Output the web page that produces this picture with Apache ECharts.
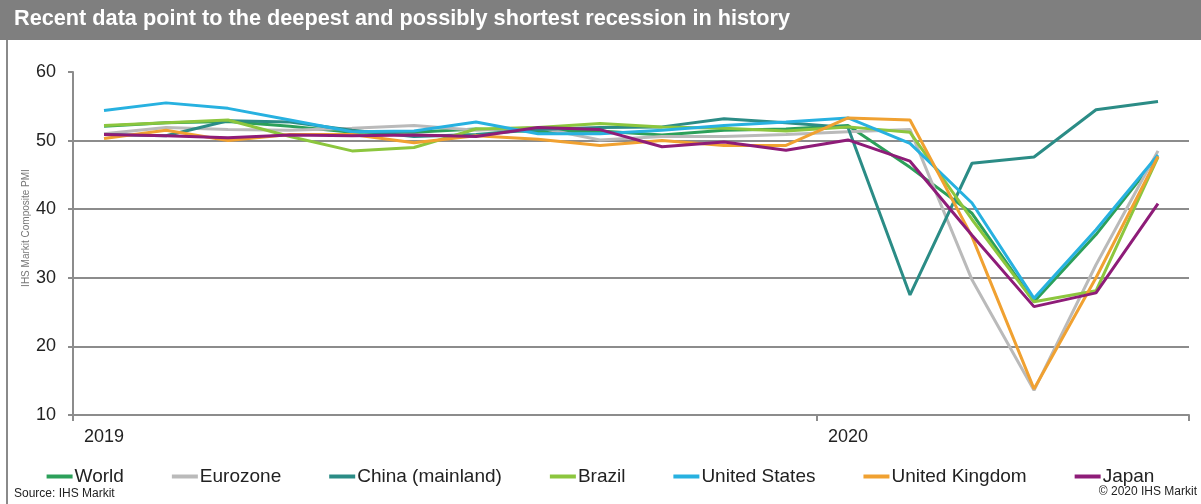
<!DOCTYPE html>
<html>
<head>
<meta charset="utf-8">
<script src="https://cdn.jsdelivr.net/npm/echarts@6/dist/echarts.min.js"></script>
<style>
html,body{margin:0;padding:0;background:#fff;}
#chart{width:1201px;height:504px;}
</style>
</head>
<body>
<div id="chart"></div>
<script>
const months = ['2019-01','2019-02','2019-03','2019-04','2019-05','2019-06','2019-07','2019-08','2019-09','2019-10','2019-11','2019-12',
                '2020-01','2020-02','2020-03','2020-04','2020-05','2020-06'];
const yearLabels = {'2019-01':'2019','2020-01':'2020'};
const yTicks = [10,20,30,40,50,60];

const world    = [52.1,52.6,52.8,52.1,51.2,51.2,51.7,51.3,51.4,50.8,51.5,51.7,52.2,46.1,39.4,26.5,36.3,47.7];
const eurozone = [51.0,51.9,51.6,51.5,51.8,52.2,51.5,51.9,50.1,50.6,50.6,50.9,51.3,51.6,29.7,13.6,31.9,48.5];
const china    = [50.9,50.7,52.9,52.7,51.5,50.6,50.9,51.6,51.9,52.0,53.2,52.6,51.9,27.5,46.7,47.6,54.5,55.7];
const brazil   = [52.2,52.6,53.0,50.6,48.5,49.0,51.7,51.9,52.5,52.0,51.8,51.4,52.0,51.2,38.5,26.5,28.1,47.6];
const us       = [54.4,55.5,54.7,53.0,51.3,51.4,52.7,51.0,51.0,51.5,52.2,52.7,53.3,49.6,40.9,27.0,37.0,47.9];
const uk       = [50.3,51.5,50.0,50.9,50.9,49.7,50.7,50.2,49.3,50.0,49.3,49.3,53.3,53.0,36.0,13.8,30.0,47.7];
const japan    = [50.9,50.7,50.4,50.8,50.7,50.8,50.6,51.9,51.6,49.1,49.8,48.6,50.1,47.0,36.2,25.8,27.8,40.8];

const seriesNames = ['World','Eurozone','China (mainland)','Brazil','United States','United Kingdom','Japan'];
const seriesData = [world, eurozone, china, brazil, us, uk, japan];
const colors = ['#2ca05a','#bababa','#2b8c86','#8cc63e','#27b1e0','#f0a131','#8e1c78'];

const FONT = '"Liberation Sans", Arial, sans-serif';
const chart = echarts.init(document.getElementById('chart'), null, {renderer:'canvas'});

const yearTick = (i) => i % 12 === 0;

chart.setOption({
  animation: false,
  color: colors,
  title: {
    text: 'Recent data point to the deepest and possibly shortest recession in history',
    left: 14, top: 8, padding: 0,
    textStyle: {color:'#ffffff', fontSize:21.7, fontWeight:'bold', fontFamily: FONT}
  },
  graphic: [
    {type:'rect', z:-10, shape:{x:0,y:0,width:1201,height:40}, style:{fill:'#7f7f7f'}},
    {type:'line', shape:{x1:7,y1:40,x2:7,y2:504}, style:{stroke:'#8a8a8a', lineWidth:2}},
    {type:'text', x:26, y:228, rotation:Math.PI/2,
     style:{text:'IHS Markit Composite PMI', font:'10px ' + FONT, fill:'#777', align:'center', verticalAlign:'middle'}},
    {type:'text', x:14, y:494, style:{text:'Source: IHS Markit', font:'12px ' + FONT, fill:'#222', verticalAlign:'middle'}},
    {type:'text', x:1197, y:492, style:{text:'\u00a9 2020 IHS Markit', font:'12px ' + FONT, fill:'#222', align:'right', verticalAlign:'middle'}}
  ],
  legend: {
    data: seriesNames,
    left: 'center', top: 462,
    icon: 'rect', itemWidth: 26, itemHeight: 4, itemGap: 48,
    textStyle: {fontSize:19, color:'#222', fontFamily: FONT, padding:[0,0,0,-3]}
  },
  grid: {left:73, right:12, top:72, bottom:89, containLabel:false},
  xAxis: {
    type:'category', data: months, boundaryGap: true,
    axisLine: {lineStyle:{color:'#8c8c8c', width:2}},
    axisTick: {show:true, interval: yearTick, length:6, lineStyle:{color:'#8c8c8c', width:2}},
    axisLabel: {interval: yearTick, formatter: (v) => yearLabels[v] || '', fontSize:18, color:'#222', fontFamily: FONT, margin:13},
    splitLine: {show:false}
  },
  yAxis: {
    type:'value', min: yTicks[0], max: yTicks[yTicks.length-1], interval: 10,
    axisLine: {show:true, lineStyle:{color:'#8c8c8c', width:2}},
    axisTick: {show:true, length:5, lineStyle:{color:'#8c8c8c', width:2}},
    axisLabel: {fontSize:18, color:'#222', fontFamily: FONT, margin:17},
    splitLine: {show:true, showMinLine:false, showMaxLine:false, lineStyle:{color:'#8c8c8c', width:2}}
  },
  series: seriesNames.map((n, k) => ({
    name: n, type:'line', data: seriesData[k], symbol:'none',
    lineStyle: {width:3, color: colors[k]}, itemStyle: {color: colors[k]}
  }))
});
</script>
</body>
</html>
